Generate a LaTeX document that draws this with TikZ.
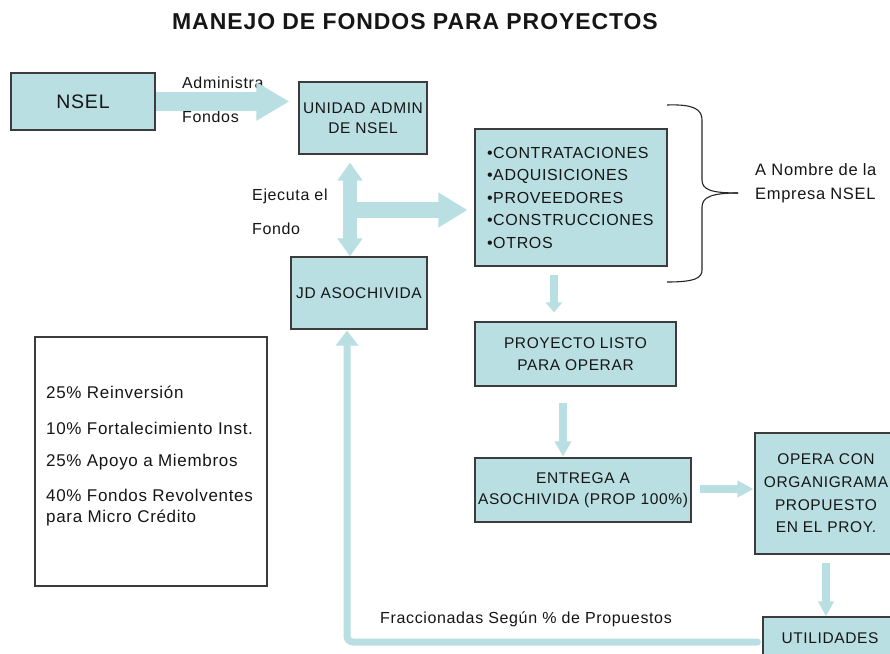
\documentclass[tikz,border=0pt]{standalone}
\usepackage{fontspec}
\setmainfont{Liberation Sans}[LetterSpace=4]
\usetikzlibrary{arrows.meta,calc}
\definecolor{boxfill}{HTML}{B9DFE3}
\definecolor{arrowfill}{HTML}{B9DFE3}
\definecolor{boxline}{HTML}{3C3C3C}
\definecolor{txt}{HTML}{161616}
\newcommand\fsbox{\fontsize{15.5}{22.5}\selectfont}
\newcommand\fslbl{\fontsize{16}{20}\selectfont}
\newcommand\fsleft{\fontsize{17}{21}\selectfont}
\tikzset{
  procbox/.style={draw=boxline, fill=boxfill, line width=1.2pt, inner sep=0pt, align=center, text=txt, font=\fsbox},
  plainbox/.style={draw=boxline, fill=white, line width=1.1pt, inner sep=0pt},
  lbl/.style={inner sep=0pt, text=txt, font=\fslbl, anchor=base west},
  leftlbl/.style={inner sep=0pt, text=txt, font=\fsleft, anchor=base west, align=left},
  blockarrow/.style={draw=arrowfill, color=arrowfill},
  bracestyle/.style={draw=black!85, line width=1.1pt}
}
\begin{document}
\begin{tikzpicture}[x=1pt,y=-1pt]
\clip (0,0) rectangle (890,653);
\fill[white] (0,0) rectangle (890,653);

% title
\node[inner sep=0pt, font=\fontsize{23}{26}\selectfont\bfseries, text=txt] (title) at (415,22) {MANEJO DE FONDOS PARA PROYECTOS};

% boxes
\node[procbox, minimum width=144pt, minimum height=57pt, font=\fontsize{19.5}{22}\selectfont] (nsel) at (83,101.5) {NSEL};
\node[procbox, minimum width=128pt, minimum height=72pt, font=\fontsize{15.5}{20}\selectfont] (unidad) at (363,118) {UNIDAD ADMIN\\DE NSEL};
\node[procbox, minimum width=136pt, minimum height=72pt] (jd) at (359,293) {JD ASOCHIVIDA};
\node[procbox, minimum width=192pt, minimum height=137pt, text width=168pt, inner xsep=12pt, align=left, font=\fontsize{16}{22.5}\selectfont] (cont) at (571,197.5) {\textbullet CONTRATACIONES\\\textbullet ADQUISICIONES\\\textbullet PROVEEDORES\\\textbullet CONSTRUCCIONES\\\textbullet OTROS};
\node[procbox, minimum width=201pt, minimum height=64pt, font=\fontsize{15.5}{22}\selectfont] (proy) at (575.5,354) {PROYECTO LISTO\\PARA OPERAR};
\node[procbox, minimum width=216pt, minimum height=64pt, font=\fontsize{15.5}{21}\selectfont] (entrega) at (583,490) {ENTREGA A\\ASOCHIVIDA (PROP 100\%)};
\node[procbox, minimum width=142pt, minimum height=121pt, font=\fontsize{15.5}{22.7}\selectfont] (opera) at (826,493.5) {OPERA CON\\ORGANIGRAMA\\PROPUESTO\\EN EL PROY.};
\node[procbox, minimum width=134pt, minimum height=43pt] (util) at (830,638.5) {UTILIDADES};
\node[plainbox, minimum width=232pt, minimum height=249pt] (leftbox) at (151,461.5) {};

% labels
\node[lbl] (ladm) at (182,88) {Administra};
\node[lbl] (lfon) at (182,122) {Fondos};
\node[lbl] (leje) at (252,200) {Ejecuta el};
\node[lbl] (lfondo) at (252,234) {Fondo};
\node[lbl, font=\fontsize{16.5}{20}\selectfont] (lnom1) at (755,175) {A Nombre de la};
\node[lbl, font=\fontsize{16.5}{20}\selectfont] (lnom2) at (755,199) {Empresa NSEL};
\node[lbl] (lfrac) at (380,623) {Fraccionadas Según \% de Propuestos};

\node[leftlbl] (p1) at (46,398) {25\% Reinversión};
\node[leftlbl] (p2) at (46,434) {10\% Fortalecimiento Inst.};
\node[leftlbl] (p3) at (46,466) {25\% Apoyo a Miembros};
\node[leftlbl] (p4) at (46,501) {40\% Fondos Revolventes};
\node[leftlbl] (p5) at (46,522) {para Micro Crédito};

% block arrows
\draw[blockarrow, line width=19pt, -{Triangle[length=33pt,width=36pt]}, shorten >=9pt]
  (nsel.east) -- (nsel.east -| unidad.west);
\draw[blockarrow, line width=14pt, {Triangle[length=18pt,width=24pt]}-{Triangle[length=18pt,width=24pt]}, shorten <=8pt]
  ([xshift=-13pt]unidad.south) -- ([xshift=-13pt]unidad.south |- jd.north);
\coordinate (fork) at (350,210);
\draw[blockarrow, line width=16pt, -{Triangle[length=29pt,width=33pt]}, shorten >=7pt]
  (fork) -- (fork -| cont.west);

% thin arrows
\draw[blockarrow, line width=8pt, -{Triangle[length=10pt,width=16pt]}, shorten <=8pt, shorten >=9pt]
  ([xshift=-17pt]cont.south) -- ([xshift=-17pt]cont.south |- proy.north);
\draw[blockarrow, line width=8pt, -{Triangle[length=15pt,width=16pt]}, shorten <=16pt, shorten >=1pt]
  ([xshift=-12.5pt]proy.south) -- ([xshift=-12.5pt]proy.south |- entrega.north);
\draw[blockarrow, line width=8pt, -{Triangle[length=16pt,width=16pt]}, shorten <=8pt, shorten >=1pt]
  ([yshift=1pt]entrega.east) -- ([yshift=1pt]entrega.east -| opera.west);
\draw[blockarrow, line width=7.5pt, -{Triangle[length=15pt,width=15pt]}, shorten <=8pt]
  ([xshift=-4pt]util.north |- opera.south) -- ([xshift=-4pt]util.north);
\draw[blockarrow, line width=7pt, line cap=round, rounded corners=6pt, -{Triangle[length=15pt,width=22pt]}, shorten <=5pt, shorten >=1pt]
  ([yshift=-3.5pt]util.west) -| ([xshift=-12pt]jd.south);

% brace
\draw[bracestyle] (667,105) .. controls (695,104) and (702,110) .. (702,120) -- (702,180)
  .. controls (702,190) and (712,193) .. (738,193);
\draw[bracestyle] (738,193) .. controls (712,193) and (702,197) .. (702,207) -- (702,270)
  .. controls (702,278) and (695,282) .. (667,282);
\end{tikzpicture}
\end{document}
